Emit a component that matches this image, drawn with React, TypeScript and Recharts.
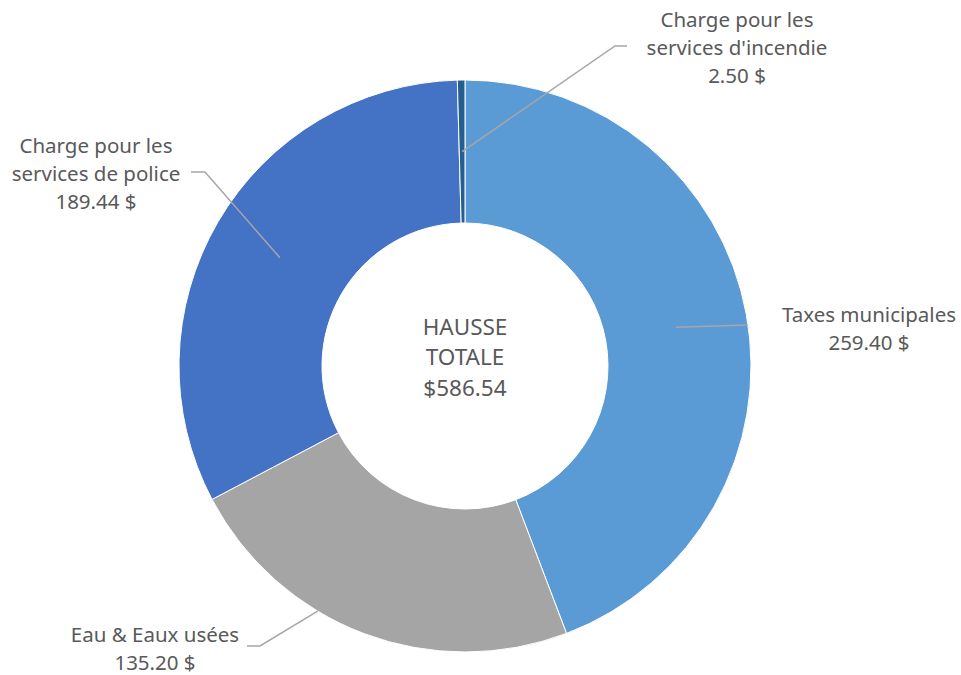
import React from 'react';
import { PieChart, Pie, Cell } from 'recharts';

const categories = [
  'Taxes municipales',
  'Eau & Eaux usées',
  'Charge pour les services de police',
  "Charge pour les services d'incendie",
];
const amounts = [259.4, 135.2, 189.44, 2.5];
const sliceColors = ['#5B9BD5', '#A5A5A5', '#4472C4', '#255E91'];
const labelLines = [
  ['Taxes municipales', '259.40 $'],
  ['Eau & Eaux usées', '135.20 $'],
  ['Charge pour les', 'services de police', '189.44 $'],
  ['Charge pour les', "services d'incendie", '2.50 $'],
];
const centerLines = ['HAUSSE', 'TOTALE', '$586.54'];

const data = categories.map((name, i) => ({ name, value: amounts[i] }));

const CX = 465;
const CY = 366;

// hand-placed callouts, as in the original workbook
const callouts = [
  { anchorR: 0.75, shift: 0, elbow: [748, 325], end: [748, 325], tx: 869, ty: 314 },
  { anchorR: 1.0, shift: 10.3, elbow: [260, 646], end: [247, 646], tx: 155, ty: 634 },
  { anchorR: 0.75, shift: 0, elbow: [205, 172], end: [191, 172], tx: 96, ty: 145 },
  { anchorR: 0.75, shift: 0, elbow: [615, 46], end: [627, 46], tx: 737, ty: 19 },
];

const RAD = Math.PI / 180;
const FONT = '"Noto Sans", sans-serif';
const TEXT = '#595959';

const CalloutLabel = (props: any) => {
  const { cx, cy, midAngle, outerRadius, index } = props;
  const c = callouts[index];
  const ang = (midAngle - c.shift) * RAD;
  const r = outerRadius * c.anchorR;
  const x0 = cx + r * Math.cos(ang);
  const y0 = cy - r * Math.sin(ang);
  const pts = `${x0},${y0} ${c.elbow[0]},${c.elbow[1]} ${c.end[0]},${c.end[1]}`;
  return (
    <g>
      <polyline points={pts} fill="none" stroke="#A6A6A6" strokeWidth={1.5} />
      {labelLines[index].map((t, k) => (
        <text
          key={k}
          x={c.tx}
          y={c.ty + k * 28}
          textAnchor="middle"
          dominantBaseline="central"
          fontFamily={FONT}
          fontSize={20.5}
          fill={TEXT}
        >
          {t}
        </text>
      ))}
    </g>
  );
};

export default function App() {
  return (
    <div style={{ position: 'absolute', left: 0, top: 0, background: '#fff' }}>
      <PieChart width={961} height={675} margin={{ top: 0, right: 0, bottom: 0, left: 0 }}>
        <Pie
          data={data}
          dataKey="value"
          nameKey="name"
          cx={CX}
          cy={CY}
          innerRadius={143}
          outerRadius={286}
          startAngle={90}
          endAngle={-270}
          stroke="#fff"
          strokeWidth={1}
          label={<CalloutLabel />}
          labelLine={false}
          isAnimationActive={false}
        >
          {data.map((d, i) => (
            <Cell key={d.name} fill={sliceColors[i]} />
          ))}
        </Pie>
        <g>
          {centerLines.map((t, k) => (
            <text
              key={k}
              x={CX}
              y={326 + k * 30.5}
              textAnchor="middle"
              dominantBaseline="central"
              fontFamily={FONT}
              fontSize={22.5}
              fill={TEXT}
            >
              {t}
            </text>
          ))}
        </g>
      </PieChart>
    </div>
  );
}
